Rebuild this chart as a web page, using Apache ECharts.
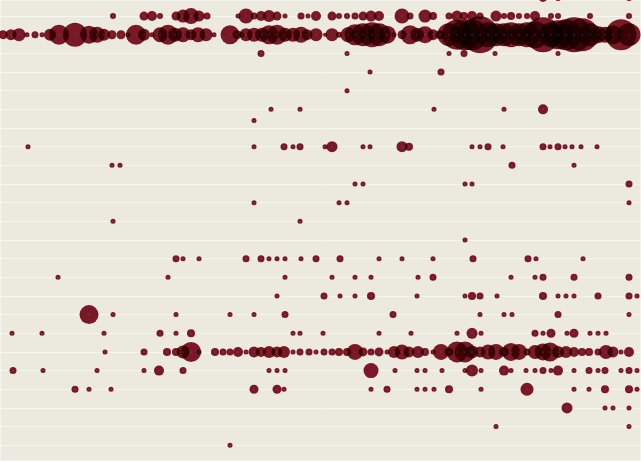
<!DOCTYPE html>
<html><head><meta charset="utf-8">
<script src="https://cdn.jsdelivr.net/npm/echarts@6/dist/echarts.min.js"></script>
<style>
html,body{margin:0;padding:0;background:#f4f3ee;width:641px;height:461px;overflow:hidden}
#bg{position:absolute;left:1px;top:1px;width:639px;height:459px;background:#ece9df}
#c{position:absolute;left:0;top:0;width:641px;height:461px}
</style></head><body><div id="bg"></div><div id="c"></div>
<script>
// each row: [x, value] pairs; rowLevels gives the y level of each row
const row0=[[543,64],[558,36],[629,36]];
const row1=[[113,25],[144,64],[152,81],[160,25],[176,64],[183,144],[191,225],[199,100],[207,36],[238,16],[246,196],[254,36],[261,81],[269,121],[277,64],[285,16],[301,36],[308,16],[316,81],[332,64],[339,25],[347,25],[355,36],[363,64],[371,100],[379,81],[402,196],[410,36],[425,144],[433,49],[449,36],[457,100],[464,49],[472,81],[480,36],[496,100],[504,25],[511,49],[519,25],[527,25],[535,81],[551,25],[558,25],[590,25],[629,25]];
const row2=[[3,64],[11,100],[19,144],[27,16],[35,36],[42,16],[50,121],[59,361],[75,529],[89,289],[97,225],[104,121],[112,64],[121,64],[128,16],[136,361],[144,121],[152,16],[160,196],[168,361],[175,169],[183,196],[191,100],[198,196],[206,144],[214,16],[230,324],[237,64],[242,16],[246,144],[254,169],[262,169],[269,324],[277,361],[285,169],[293,169],[301,225],[307,100],[316,144],[325,9],[332,144],[339,25],[348,196],[355,400],[363,484],[372,576],[379,484],[387,289],[394,16],[402,64],[410,324],[417,169],[425,256],[433,100],[440,64],[449,484],[457,841],[465,900],[472,900],[480,1296],[488,576],[496,484],[504,484],[511,576],[519,484],[527,576],[535,676],[543,1156],[551,576],[558,784],[566,900],[574,1156],[582,1024],[590,484],[598,256],[605,225],[613,324],[621,900],[629,484]];
const row3=[[261,36],[347,16],[449,16],[464,36],[495,16],[558,16]];
const row4=[[370,16],[441,36]];
const row5=[[347,16]];
const row6=[[271,16],[300,16],[434,16],[504,16],[543,81]];
const row6b=[[254,16]];
const row8=[[28,16],[254,16],[284,36],[293,16],[300,36],[325,16],[332,100],[363,16],[370,16],[402,100],[409,49],[472,16],[480,16],[488,36],[503,16],[543,36],[550,16],[558,36],[565,16],[572,16],[581,16],[597,16]];
const row9=[[112,16],[120,16],[512,36],[574,16]];
const row10=[[355,16],[363,16],[465,16],[472,16],[629,36]];
const row11=[[254,16],[339,16],[347,16],[629,16]];
const row12=[[113,16],[300,16]];
const row13=[[465,16]];
const row14=[[176,36],[183,16],[199,16],[246,36],[261,36],[269,16],[277,16],[285,16],[301,16],[316,36],[340,36],[379,16],[402,16],[433,16],[473,36],[528,36],[536,16],[583,16]];
const row15=[[58,16],[168,16],[285,16],[332,16],[355,16],[371,16],[418,16],[433,36],[511,16],[535,16],[543,36],[574,36],[629,36]];
const row16=[[277,16],[324,36],[340,16],[355,16],[371,49],[417,16],[465,16],[472,49],[480,36],[497,16],[543,49],[558,16],[566,16],[574,16],[598,36],[629,36],[637,16]];
const row17=[[89,324],[113,16],[176,16],[230,16],[254,16],[285,36],[393,36],[480,16],[504,16],[512,16],[558,36],[629,16]];
const row18=[[12,16],[42,16],[104,16],[160,36],[176,16],[191,49],[293,16],[300,16],[323,16],[379,16],[411,16],[457,16],[472,100],[481,16],[535,36],[543,16],[551,64],[567,16],[574,64],[590,16],[598,16],[606,16]];
const row19=[[105,16],[144,36],[167,49],[176,49],[183,144],[191,361],[199,16],[215,49],[223,36],[230,36],[238,81],[246,16],[254,100],[261,81],[269,121],[277,100],[284,121],[293,16],[300,36],[309,36],[316,16],[324,36],[332,36],[339,49],[347,49],[355,225],[363,64],[371,36],[379,64],[387,16],[394,121],[402,196],[409,100],[418,121],[425,49],[433,16],[441,225],[449,64],[457,400],[465,400],[472,144],[480,100],[488,196],[496,225],[504,81],[511,289],[519,225],[527,36],[535,169],[543,256],[550,324],[558,121],[566,121],[574,81],[582,49],[589,49],[598,36],[606,169],[613,100],[621,16],[629,81]];
const row20=[[13,36],[43,16],[97,16],[144,16],[159,81],[183,36],[269,16],[277,16],[285,16],[371,196],[395,16],[417,16],[425,16],[442,16],[465,16],[472,121],[481,16],[504,81],[511,16],[526,16],[535,16],[543,36],[551,16],[558,81],[574,16],[589,36],[598,16],[605,36],[621,16],[629,36],[637,16]];
const row21=[[75,36],[89,16],[111,16],[254,64],[277,64],[284,16],[371,16],[387,36],[417,16],[425,16],[434,16],[449,49],[481,16],[527,144],[574,16],[589,16],[605,49],[629,49],[637,16]];
const row22=[[567,100],[605,16],[613,16],[629,16]];
const row23=[[496,16],[629,16]];
const row24=[[230,16]];

const rowLevels=[[0,row0],[1,row1],[2,row2],[3,row3],[4,row4],[5,row5],[6,row6],[6.6,row6b],[8,row8],[9,row9],[10,row10],[11,row11],[12,row12],[13,row13],[14,row14],[15,row15],[16,row16],[17,row17],[18,row18],[19,row19],[20,row20],[21,row21],[22,row22],[23,row23],[24,row24]];
const points=[];
rowLevels.forEach(([level,row])=>row.forEach(([x,v])=>points.push([x,level,v])));

const chart=echarts.init(document.getElementById('c'),null,{renderer:'canvas'});
chart.setOption({
  animation:false,
  backgroundColor:'transparent',
  grid:{left:0,right:0,top:-2.6,bottom:-2.9,containLabel:false,outerBoundsMode:'none'},
  xAxis:{type:'value',min:0,max:641,axisLine:{show:false},axisTick:{show:false},axisLabel:{show:false},splitLine:{show:false}},
  yAxis:{type:'value',inverse:true,min:0,max:25,interval:1,axisLine:{show:false},axisTick:{show:false},axisLabel:{show:false},splitLine:{show:true,lineStyle:{color:'#f6f5f0',width:1}}},
  series:[
   {type:'scatter',data:points,clip:false,blendMode:'multiply',symbolSize:d=>Math.sqrt(d[2])+1,itemStyle:{color:'#7a1827',opacity:1}},
   {type:'scatter',data:points,clip:false,symbolSize:1,itemStyle:{color:'#c9878f',opacity:0.7}}
  ]
});
</script></body></html>
